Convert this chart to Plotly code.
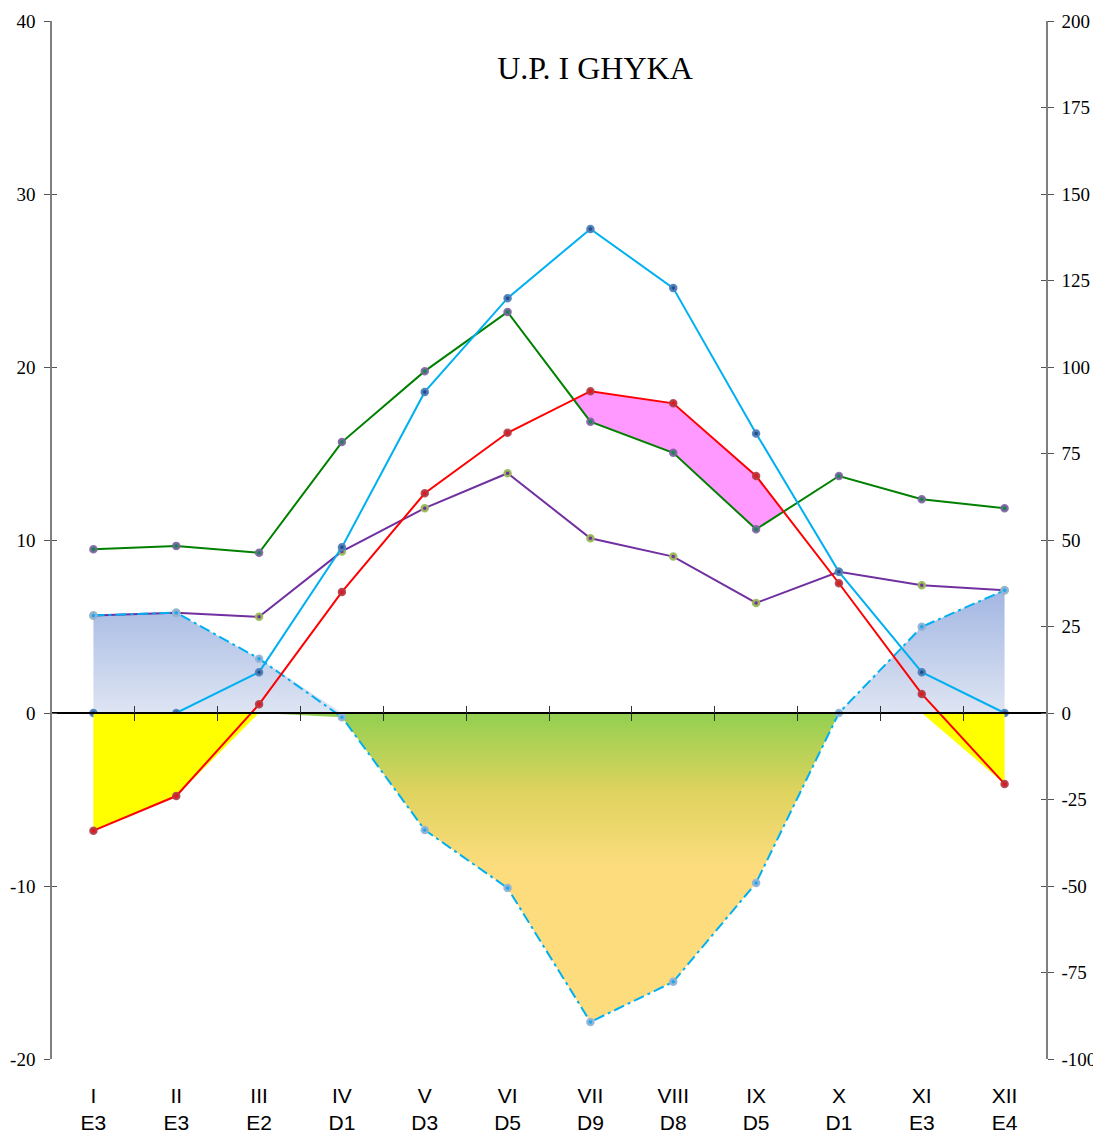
import plotly.graph_objects as go

# ---------------- data ----------------
MONTHS = ["I", "II", "III", "IV", "V", "VI", "VII", "VIII", "IX", "X", "XI", "XII"]
CLASSES = ["E3", "E3", "E2", "D1", "D3", "D5", "D9", "D8", "D5", "D1", "E3", "E4"]

# temperature, left axis (°C)
TEMP = [-6.8, -4.8, 0.5, 7.0, 12.7, 16.2, 18.6, 17.9, 13.7, 7.5, 1.1, -4.1]
# right-axis series (mm)
PRECIP = [47.3, 48.3, 46.3, 78.3, 98.8, 115.9, 84.2, 75.2, 53.1, 68.5, 61.8, 59.2]
PET = [0.0, 0.0, 11.8, 47.9, 92.8, 119.9, 139.9, 122.8, 80.8, 40.8, 11.8, 0.0]
SERIES_D = [28.2, 29.0, 27.8, 46.7, 59.2, 69.3, 50.5, 45.2, 31.8, 40.8, 36.9, 35.5]
BALANCE = [28.2, 29.0, 15.7, -1.2, -33.8, -50.6, -89.3, -77.7, -49.1, 0.0, 24.9, 35.5]

LEFT_TICKS = [-20, -10, 0, 10, 20, 30, 40]
RIGHT_TICKS = [-100, -75, -50, -25, 0, 25, 50, 75, 100, 125, 150, 175, 200]
TITLE = "U.P. I GHYKA"

# ---------------- derived ----------------
Y_RANGE = [LEFT_TICKS[0], LEFT_TICKS[-1]]
Y2_RANGE = [RIGHT_TICKS[0], RIGHT_TICKS[-1]]
X_RANGE = [-0.5, len(MONTHS) - 0.5]
ratio = (Y2_RANGE[1] - Y2_RANGE[0]) / (Y_RANGE[1] - Y_RANGE[0])
zero_pos = (0 - Y_RANGE[0]) / (Y_RANGE[1] - Y_RANGE[0])

x = list(range(len(MONTHS)))
ticktext = [f"{m}<br>{c}" for m, c in zip(MONTHS, CLASSES)]
boundaries = [i + 0.5 for i in range(len(MONTHS) - 1)]

# surplus polygon (temperature curve above precipitation curve)
t_mm = [t * ratio for t in TEMP]
px, py = [], []
upper, lower = [], []
for i in range(len(x)):
    d = t_mm[i] - PRECIP[i]
    if i > 0:
        dp = t_mm[i - 1] - PRECIP[i - 1]
        if (dp > 0) != (d > 0):
            f = dp / (dp - d)
            xc = x[i - 1] + f
            yc = PRECIP[i - 1] + f * (PRECIP[i] - PRECIP[i - 1])
            upper.append((xc, yc))
            lower.append((xc, yc))
            if dp > 0:
                poly = upper + lower[::-1]
                px += [p[0] for p in poly] + [None]
                py += [p[1] for p in poly] + [None]
                upper, lower = [], []
    if d > 0:
        upper.append((x[i], t_mm[i]))
        lower.append((x[i], PRECIP[i]))
if upper:
    poly = upper + lower[::-1]
    px += [p[0] for p in poly]
    py += [p[1] for p in poly]

fig = go.Figure()

# ---- fills ----
fig.add_trace(go.Scatter(
    x=x, y=[max(b, 0) for b in BALANCE], xaxis="x", yaxis="y2", mode="none",
    fill="tozeroy",
    fillgradient=dict(type="vertical", start=0, stop=max(BALANCE),
                      colorscale=[[0, "#DEE5F3"], [1, "#A2B6E2"]]),
    hoverinfo="skip", showlegend=False))
fig.add_trace(go.Scatter(
    x=x, y=[min(b, 0) for b in BALANCE], xaxis="x", yaxis="y2", mode="none",
    fill="tozeroy",
    fillgradient=dict(type="vertical", start=-45, stop=0,
                      colorscale=[[0, "#FDDC7E"], [0.5, "#DED35E"], [1, "#92D050"]]),
    hoverinfo="skip", showlegend=False))
fig.add_trace(go.Scatter(
    x=px, y=py, xaxis="x", yaxis="y2", mode="none", fill="toself",
    fillcolor="#FF99FF", hoverinfo="skip", showlegend=False))


def marker(center, ring):
    return dict(size=6, color=center, line=dict(width=2.5, color=ring))


# ---- lines on right axis ----
fig.add_trace(go.Scatter(x=x, y=PRECIP, xaxis="x", yaxis="y2", mode="lines+markers",
                         line=dict(color="#008000", width=2),
                         marker=marker("#0E8A4A", "rgba(128,100,162,0.9)"),
                         showlegend=False))
fig.add_trace(go.Scatter(x=x, y=SERIES_D, xaxis="x", yaxis="y2", mode="lines+markers",
                         line=dict(color="#7030A0", width=2),
                         marker=marker("#7030A0", "rgba(155,187,89,0.95)"),
                         showlegend=False))
fig.add_trace(go.Scatter(x=x, y=PET, xaxis="x", yaxis="y2", mode="lines+markers",
                         line=dict(color="#00B0F0", width=2),
                         marker=marker("#1F4E8C", "rgba(79,129,189,0.95)"),
                         showlegend=False))
fig.add_trace(go.Scatter(x=x, y=BALANCE, xaxis="x", yaxis="y2", mode="lines+markers",
                         line=dict(color="#00B0F0", width=2, dash="11px,4px,3px,4px"),
                         marker=marker("#1AA8E8", "rgba(149,179,215,0.95)"),
                         showlegend=False))

# ---- yellow fill + temperature on left axis ----
fig.add_trace(go.Scatter(
    x=x, y=[min(t, 0) for t in TEMP], xaxis="x", yaxis="y", mode="none",
    fill="tozeroy", fillcolor="#FFFF00", hoverinfo="skip", showlegend=False))
fig.add_trace(go.Scatter(x=x, y=TEMP, xaxis="x", yaxis="y", mode="lines+markers",
                         line=dict(color="#FF0000", width=2),
                         marker=marker("#E8141C", "rgba(176,60,70,0.9)"),
                         showlegend=False))

# ---- empty traces so that the tick-only overlay axes are drawn ----
for xa, ya in [("x2", "y2"), ("x3", "y2"), ("x", "y3"), ("x", "y4")]:
    fig.add_trace(go.Scatter(x=[None], y=[None], xaxis=xa, yaxis=ya, mode="lines",
                             hoverinfo="skip", showlegend=False))

serif = "Liberation Serif"
sans = "Liberation Sans"
axis_gray = "#7F7F7F"

# the page body adds an 8px offset, so the figure is shifted accordingly
W, H = 1101, 1129

fig.update_layout(
    width=W, height=H,
    margin=dict(l=44, r=63, t=13, b=78, autoexpand=False),
    paper_bgcolor="white", plot_bgcolor="white",
    showlegend=False,
    title=dict(text=TITLE, x=587 / W, xref="container", xanchor="center",
               y=1 - 60 / H, yref="container", yanchor="middle",
               font=dict(family=serif, size=32, color="black")),
    xaxis=dict(range=X_RANGE, tickvals=x, ticktext=ticktext, showgrid=False,
               zeroline=False, showline=False, ticks="", anchor="y2",
               automargin=False,
               tickfont=dict(family=sans, size=21, color="black"),
               ticklabelstandoff=22),
    xaxis2=dict(range=X_RANGE, overlaying="x", anchor="free", position=zero_pos,
                showline=True, linecolor="black", linewidth=1.5,
                ticks="outside", ticklen=7, tickwidth=1.2, tickcolor="#333333",
                tickvals=boundaries, showticklabels=False, showgrid=False,
                zeroline=False, automargin=False),
    xaxis3=dict(range=X_RANGE, overlaying="x", anchor="free", position=zero_pos,
                showline=False, ticks="inside", ticklen=7, tickwidth=1.2,
                tickcolor="#333333", tickvals=boundaries, showticklabels=False,
                showgrid=False, zeroline=False, automargin=False),
    yaxis2=dict(range=Y2_RANGE, side="right", anchor="x", tickvals=RIGHT_TICKS,
                ticktext=[str(v) for v in RIGHT_TICKS], showgrid=False,
                zeroline=False, showline=True, linecolor=axis_gray, linewidth=1.5,
                ticks="outside", ticklen=6, tickwidth=1.2, tickcolor="#555555",
                tickfont=dict(family=serif, size=19, color="black"),
                ticklabelstandoff=4, automargin=False),
    yaxis=dict(range=Y_RANGE, side="left", overlaying="y2", anchor="x",
               tickvals=LEFT_TICKS, ticktext=[str(v) for v in LEFT_TICKS],
               showgrid=False, zeroline=False, showline=True, linecolor=axis_gray,
               linewidth=1.5, ticks="outside", ticklen=6, tickwidth=1.2,
               tickcolor="#555555", automargin=False,
               tickfont=dict(family=serif, size=19, color="black"),
               ticklabelstandoff=5),
    yaxis3=dict(range=Y_RANGE, side="left", overlaying="y2", anchor="x",
                tickvals=LEFT_TICKS, showticklabels=False, showgrid=False,
                zeroline=False, showline=False, ticks="inside", ticklen=5,
                tickwidth=1.2, tickcolor="#555555", automargin=False),
    yaxis4=dict(range=Y2_RANGE, side="right", overlaying="y2", anchor="x",
                tickvals=RIGHT_TICKS, showticklabels=False, showgrid=False,
                zeroline=False, showline=False, ticks="inside", ticklen=5,
                tickwidth=1.2, tickcolor="#555555", automargin=False),
)

fig.write_html("out.html")
